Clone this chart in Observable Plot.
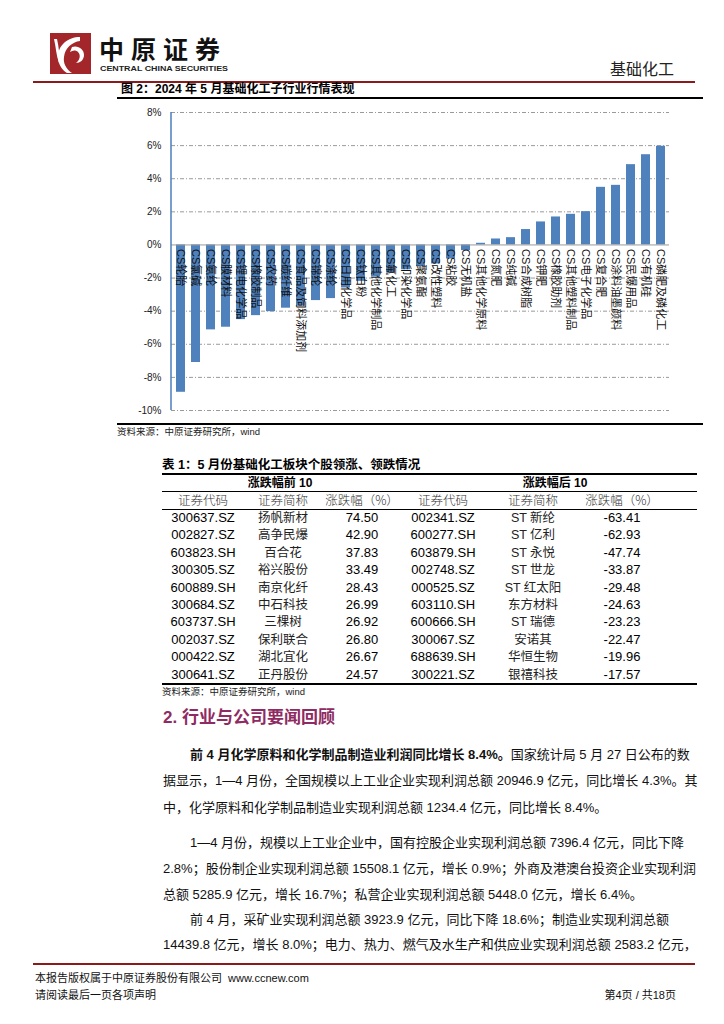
<!DOCTYPE html>
<html><head><meta charset="utf-8">
<script src="https://cdn.jsdelivr.net/npm/d3@7"></script>
<script src="https://cdn.jsdelivr.net/npm/@observablehq/plot@0.6"></script>
<style>
body{margin:0;background:#fff;}
#page{position:relative;width:724px;height:1024px;overflow:hidden;font-family:"Liberation Sans",Arial,"Noto Sans CJK SC",sans-serif;color:#000;background:#fff;}
.abs{position:absolute;white-space:nowrap;}
.hl{position:absolute;background:#000;}
.cell{position:absolute;width:120px;text-align:center;white-space:nowrap;height:18px;line-height:18px;}
.line{position:absolute;white-space:nowrap;font-size:13px;height:20px;line-height:20px;color:#111;}
.just{text-align:justify;text-align-last:justify;}
</style></head><body><div id="page">

<!-- header -->
<svg class="abs" style="left:50px;top:33px" width="41" height="41" viewBox="0 0 41 41">
  <rect width="41" height="41" fill="#A3262B"/>
  <path d="M30 4 C18 4 8 12 8 24 C8 31 12 37 17 40 L22 40 C16 36 13 30 14 24 C15 15 22 9 30 8 Z" fill="#fff"/>
  <path d="M22 14 C28 12 34 16 34 22 C34 27 30 30 26 30 C30 27 31 22 28 19 C26 17 23 17 20 19 Z" fill="#fff"/>
  <path d="M4 6 C6 14 6 22 9 30 L11 30 C9 22 9 14 7 6 Z" fill="#fff"/>
</svg>
<div class="abs" style="left:99px;top:35px;font-size:25px;font-weight:bold;letter-spacing:7px;line-height:26px;font-family:'Noto Sans CJK SC';color:#111">中原证券</div>
<svg class="abs" style="left:100px;top:63px" width="130" height="10"><text x="0" y="8" font-size="7.5" font-weight="bold" textLength="128" lengthAdjust="spacingAndGlyphs" font-family="Liberation Sans, Arial" fill="#222">CENTRAL CHINA SECURITIES</text></svg>
<div class="abs" style="left:610px;top:58px;font-size:16px;line-height:20px;font-family:'Noto Sans CJK SC';color:#222">基础化工</div>
<div class="hl" style="left:33px;top:81px;width:662px;height:2px;background:#8B1A1A"></div>

<!-- chart title -->
<div class="abs" style="left:121px;top:82px;font-size:12px;font-weight:bold;line-height:15px;">图 2：2024 年 5 月基础化工子行业行情表现</div>
<div class="hl" style="left:117px;top:97px;width:586px;height:2px"></div>
<div id="chart" class="abs" style="left:117px;top:100px"></div>
<div class="hl" style="left:117px;top:423px;width:586px;height:2px"></div>
<div class="abs" style="left:117px;top:425px;font-size:9.5px;line-height:14px;color:#222">资料来源：中原证券研究所，wind</div>

<!-- table -->
<div class="abs" style="left:162px;top:457px;font-size:12.5px;font-weight:bold;line-height:16px;">表 1：5 月份基础化工板块个股领涨、领跌情况</div>
<div class="hl" style="left:162px;top:473px;width:535px;height:2px"></div>
<div class="hl" style="left:162px;top:491px;width:535px;height:1px"></div>
<div class="hl" style="left:162px;top:509px;width:535px;height:1px"></div>
<div class="hl" style="left:162px;top:683px;width:535px;height:2px"></div>
<div id="table"></div>
<div class="abs" style="left:162px;top:685px;font-size:9.5px;line-height:14px;color:#222">资料来源：中原证券研究所，wind</div>

<!-- section -->
<div class="abs" style="left:163px;top:707px;font-size:17px;font-weight:bold;line-height:22px;color:#8E2B62;font-family:'Liberation Sans','Noto Sans CJK SC'">2. 行业与公司要闻回顾</div>

<div class="line just" style="left:190px;width:490px;top:745px"><b>前 4 月化学原料和化学制品制造业利润同比增长 8.4%。</b>国家统计局 5 月 27 日公布的数</div>
<div class="line just" style="left:163px;width:517px;top:771px">据显示，1—4 月份，全国规模以上工业企业实现利润总额 20946.9 亿元，同比增长 4.3%。其</div>
<div class="line" style="left:163px;top:798px">中，化学原料和化学制品制造业实现利润总额 1234.4 亿元，同比增长 8.4%。</div>

<div class="line just" style="left:190px;width:488px;top:833px">1—4 月份，规模以上工业企业中，国有控股企业实现利润总额 7396.4 亿元，同比下降</div>
<div class="line just" style="left:163px;width:517px;top:859px">2.8%；股份制企业实现利润总额 15508.1 亿元，增长 0.9%；外商及港澳台投资企业实现利润</div>
<div class="line" style="left:163px;top:885px">总额 5285.9 亿元，增长 16.7%；私营企业实现利润总额 5448.0 亿元，增长 6.4%。</div>

<div class="line just" style="left:190px;width:478px;top:910px">前 4 月，采矿业实现利润总额 3923.9 亿元，同比下降 18.6%；制造业实现利润总额</div>
<div class="line just" style="left:163px;width:517px;top:935px">14439.8 亿元，增长 8.0%；电力、热力、燃气及水生产和供应业实现利润总额 2583.2 亿元，</div>

<!-- footer -->
<div class="hl" style="left:33px;top:963px;width:662px;height:2px;background:#8B1A1A"></div>
<div class="abs" style="left:35px;top:970px;font-size:11px;line-height:16px;color:#111">本报告版权属于中原证券股份有限公司&nbsp; www.ccnew.com</div>
<div class="abs" style="left:35px;top:987px;font-size:11px;line-height:16px;color:#111">请阅读最后一页各项声明</div>
<div class="abs" style="left:586px;top:987px;width:90px;text-align:right;font-size:11px;line-height:16px;color:#111">第4页 / 共18页</div>
</div>

<script>
// ---- chart data ----
const categories = ["CS轮胎","CS氯碱","CS氨纶","CS膜材料","CS锂电化学品","CS橡胶制品","CS农药","CS碳纤维","CS食品及饲料添加剂","CS锦纶","CS涤纶","CS日用化学品","CS钛白粉","CS其他化学制品","CS氟化工","CS印染化学品","CS聚氨酯","CS改性塑料","CS粘胶","CS无机盐","CS其他化学原料","CS氮肥","CS纯碱","CS合成树脂","CS钾肥","CS橡胶助剂","CS其他塑料制品","CS电子化学品","CS复合肥","CS涂料油墨颜料","CS民爆用品","CS有机硅","CS磷肥及磷化工"];
const values = [-8.9,-7.1,-5.13,-4.97,-4.51,-4.27,-4.03,-3.82,-3.7,-3.36,-3.24,-2.6,-2.2,-1.95,-1.7,-1.5,-1.3,-1.15,-0.85,-0.34,0.1,0.36,0.44,0.93,1.39,1.69,1.85,2.01,3.48,3.6,4.85,5.45,5.96];
const yTicks = [8,6,4,2,0,-2,-4,-6,-8,-10];

// ---- table data ----
const topCodes = ["300637.SZ","002827.SZ","603823.SH","300305.SZ","600889.SH","300684.SZ","603737.SH","002037.SZ","000422.SZ","300641.SZ"];
const topNames = ["扬帆新材","高争民爆","百合花","裕兴股份","南京化纤","中石科技","三棵树","保利联合","湖北宜化","正丹股份"];
const topChg = ["74.50","42.90","37.83","33.49","28.43","26.99","26.92","26.80","26.67","24.57"];
const botCodes = ["002341.SZ","600277.SH","603879.SH","002748.SZ","000525.SZ","603110.SH","600666.SH","300067.SZ","688639.SH","300221.SZ"];
const botNames = ["ST 新纶","ST 亿利","ST 永悦","ST 世龙","ST 红太阳","东方材料","ST 瑞德","安诺其","华恒生物","银禧科技"];
const botChg = ["-63.41","-62.93","-47.74","-33.87","-29.48","-24.63","-23.23","-22.47","-19.96","-17.57"];
const groupHeaders = ["涨跌幅前 10","涨跌幅后 10"];
const colHeaders = ["证券代码","证券简称","涨跌幅（%）","证券代码","证券简称","涨跌幅（%）"];

const data = categories.map((c, i) => ({name: c, value: values[i]}));

const axisLine = (index, scales, values, dims) => {
  const g = d3.create("svg:line")
    .attr("x1", dims.marginLeft).attr("x2", dims.marginLeft)
    .attr("y1", dims.marginTop).attr("y2", dims.height - dims.marginBottom)
    .attr("stroke", "#4A7EBB").attr("stroke-width", 1.5);
  return g.node();
};

const chart = Plot.plot({
  width: 586,
  height: 322,
  marginLeft: 54,
  marginRight: 34,
  marginTop: 12,
  marginBottom: 12,
  style: {fontFamily: "Liberation Sans, Arial, Noto Sans CJK SC, sans-serif", background: "transparent"},
  x: {domain: categories, paddingInner: 0.42, paddingOuter: 0.21, axis: null},
  y: {domain: [-10, 8], label: null},
  marks: [
    Plot.ruleY(yTicks.filter(d => d !== 0), {stroke: "#9a9a9a", strokeDasharray: "4,2,1,2", strokeWidth: 1}),
    Plot.barY(data, {x: "name", y: "value", fill: "#4F81BD"}),
    Plot.ruleY([0], {stroke: "#999", strokeWidth: 1}),
    Plot.text(data, {x: "name", y: 0, text: "name", rotate: 90, textAnchor: "start", dy: 4, fontSize: 11, fill: "#111"}),
    Plot.axisY({ticks: yTicks, tickFormat: d => d + "%", tickSize: 0, tickPadding: 10, fontSize: 10, fill: "#222", label: null}),
    axisLine
  ]
});
document.getElementById("chart").appendChild(chart);

// ---- table ----
const tbl = document.getElementById("table");
function cell(text, cx, cy, style) {
  const d = document.createElement("div");
  d.className = "cell";
  d.style.left = (cx - 60) + "px";
  d.style.top = (cy - 9) + "px";
  d.textContent = text;
  Object.assign(d.style, style || {});
  tbl.appendChild(d);
}
const groupX = [280, 555];
groupHeaders.forEach((t, i) => cell(t, groupX[i], 483, {fontSize: "12px", fontWeight: "bold"}));
const colX = [203, 283, 362, 443, 533, 622];
colHeaders.forEach((t, i) => cell(t, colX[i], 500, {fontSize: "12.5px", color: "#333", fontFamily: "Noto Sans CJK SC", fontWeight: "300"}));
const cols = [topCodes, topNames, topChg, botCodes, botNames, botChg];
for (let r = 0; r < 10; r++) {
  const cy = 518 + r * 17.4;
  cols.forEach((arr, c) => {
    const isName = c === 1 || c === 4;
    cell(arr[r], colX[c], cy, isName ? {fontSize: "12.5px", color: "#222"} : {fontSize: "13px"});
  });
}
</script>
</body></html>
